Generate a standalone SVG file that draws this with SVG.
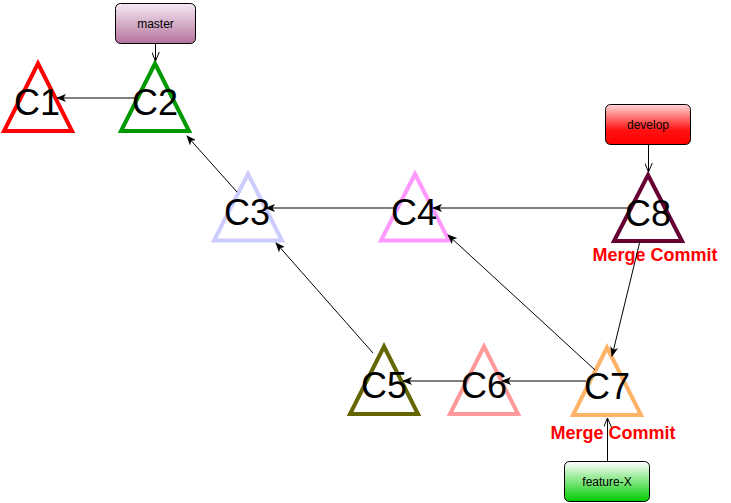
<svg xmlns="http://www.w3.org/2000/svg" width="731" height="503" viewBox="0 0 731 503">
<defs>
<linearGradient id="gMaster" x1="0" y1="0" x2="0" y2="1"><stop offset="0" stop-color="#f5eaf2"/><stop offset="1" stop-color="#b5739d"/></linearGradient>
<linearGradient id="gDevelop" x1="0" y1="0" x2="0" y2="1"><stop offset="0" stop-color="#ffd6d6"/><stop offset="0.65" stop-color="#ff1010"/><stop offset="1" stop-color="#ff0000"/></linearGradient>
<linearGradient id="gFeature" x1="0" y1="0" x2="0" y2="1"><stop offset="0" stop-color="#ffffff"/><stop offset="1" stop-color="#00cc00"/></linearGradient>
<marker id="classic" viewBox="0 0 10 8" refX="9" refY="4" markerWidth="10" markerHeight="8" markerUnits="userSpaceOnUse" orient="auto">
<path d="M0,0 L10,4 L0,8 L2.5,4 Z" fill="#000"/>
</marker>
<marker id="open" viewBox="0 0 10 8" refX="9.5" refY="4" markerWidth="10" markerHeight="8" markerUnits="userSpaceOnUse" orient="auto">
<path d="M0,0 L9.5,4 L0,8" fill="none" stroke="#000" stroke-width="1"/>
</marker>
</defs>
<style>
.tri{fill:#fff;stroke-width:4;stroke-linejoin:miter}
.lbl{font-family:"Liberation Sans",Arial,sans-serif;font-size:36px;fill:#000;text-anchor:middle}
.box{stroke:#000;stroke-width:1}
.btxt{font-family:"Liberation Sans",Arial,sans-serif;font-size:12px;fill:#000;text-anchor:middle}
.mc{font-family:"Liberation Sans",Arial,sans-serif;font-size:18px;font-weight:bold;fill:#ff0000;text-anchor:middle}
.edge{stroke:#000;stroke-width:1;fill:none;marker-end:url(#classic)}
.vedge{stroke:#000;stroke-width:1;fill:none;marker-end:url(#open)}
</style>
<g id="C1"><path class="tri" stroke="#ff0000" d="M38,63.5 L72,131 L4,131 Z"/><text class="lbl" x="37" y="115">C1</text></g>
<g id="C2"><path class="tri" stroke="#009900" d="M155,63.5 L189,131 L121,131 Z"/><text class="lbl" x="155" y="115">C2</text></g>
<g id="C3"><path class="tri" stroke="#ccccff" d="M248,174 L282,240.5 L214,240.5 Z"/><text class="lbl" x="247" y="225">C3</text></g>
<g id="C4"><path class="tri" stroke="#ff99ff" d="M415,174 L449,240.5 L381,240.5 Z"/><text class="lbl" x="414" y="225">C4</text></g>
<g id="C8"><path class="tri" stroke="#660033" d="M648,175 L682,241 L614,241 Z"/><text class="lbl" x="648" y="226">C8</text><text class="mc" x="655" y="261">Merge Commit</text></g>
<g id="C5"><path class="tri" stroke="#666600" d="M384,346.5 L418,414 L350,414 Z"/><text class="lbl" x="384" y="398">C5</text></g>
<g id="C6"><path class="tri" stroke="#ff9999" d="M484,346.5 L518,414 L450,414 Z"/><text class="lbl" x="484" y="398">C6</text></g>
<g id="C7"><path class="tri" stroke="#ffb366" d="M607,347.5 L641,415 L573,415 Z"/><text class="lbl" x="607" y="399">C7</text><text class="mc" x="613" y="439">Merge Commit</text></g>
<g id="master"><rect class="box" x="115.5" y="3.5" width="80" height="40" rx="5" fill="url(#gMaster)"/><text class="btxt" x="155.5" y="27.5">master</text></g>
<g id="develop"><rect class="box" x="605.5" y="104.5" width="85" height="40" rx="5" fill="url(#gDevelop)"/><text class="btxt" x="648" y="128.5">develop</text></g>
<g id="feature-X"><rect class="box" x="564.5" y="461.5" width="85" height="40" rx="5" fill="url(#gFeature)"/><text class="btxt" x="607" y="485.5">feature-X</text></g>
<g id="connectors">
<line class="edge" x1="137" y1="98" x2="57" y2="98"/>
<line class="vedge" x1="155.5" y1="43.5" x2="155.5" y2="61"/>
<line class="edge" x1="237" y1="192" x2="187" y2="136"/>
<line class="edge" x1="396" y1="208" x2="266" y2="208"/>
<line class="edge" x1="629" y1="208" x2="433" y2="208"/>
<line class="vedge" x1="648.5" y1="144.5" x2="648.5" y2="172"/>
<line class="edge" x1="640" y1="241" x2="612" y2="356"/>
<line class="edge" x1="595" y1="370" x2="448" y2="235"/>
<line class="edge" x1="373" y1="353" x2="276" y2="243"/>
<line class="edge" x1="465" y1="381" x2="403" y2="381"/>
<line class="edge" x1="586" y1="381" x2="502" y2="381"/>
<line class="vedge" x1="607.5" y1="461.5" x2="607.5" y2="418"/>
</g>
</svg>
